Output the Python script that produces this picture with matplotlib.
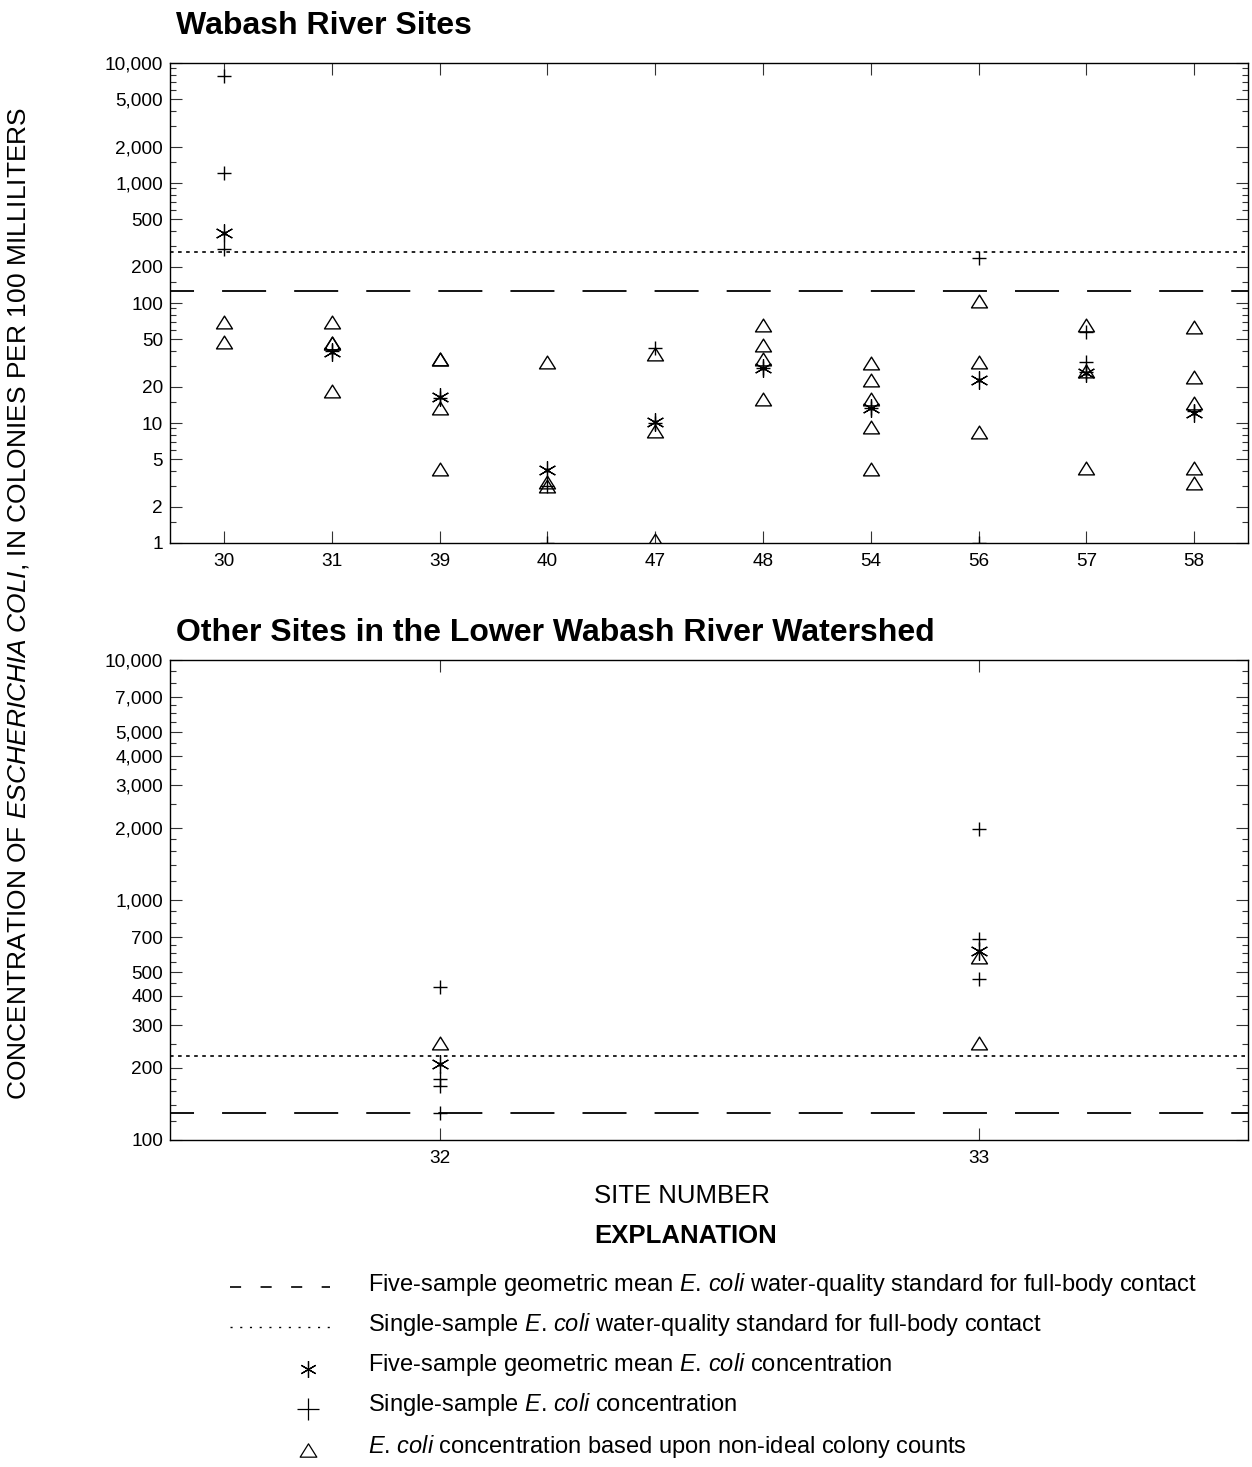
import matplotlib
matplotlib.use("Agg")
import matplotlib.pyplot as plt
from matplotlib.path import Path
from matplotlib.ticker import FixedLocator, NullLocator, NullFormatter

plt.rcParams['font.family'] = ['Liberation Sans', 'DejaVu Sans']
plt.rcParams['mathtext.fontset'] = 'custom'
plt.rcParams['mathtext.rm'] = 'Liberation Sans'
plt.rcParams['mathtext.it'] = 'Liberation Sans:italic'
plt.rcParams['mathtext.bf'] = 'Liberation Sans:bold'
plt.rcParams['lines.scale_dashes'] = False

# ---- data ----
top_sites = ["30", "31", "39", "40", "47", "48", "54", "56", "57", "58"]
top_single = [[7800, 1200, 280], [40], [16.2], [3.0, 1.0], [42, 10], [29],
              [13.3], [235, 1.0], [57, 32, 26.5], [12.6]]
top_geomean = [380, 39, 16.4, 4.07, 10.1, 29, 13.3, 23, 26.3, 12]
top_nonideal = [[70, 47], [70, 46, 46, 18.5], [34, 34, 13.3, 4.15], [32, 3.2, 3.0],
                [37.5, 8.5, 1.06], [66, 44.6, 34, 15.8], [31.4, 22.8, 15.8, 9.3, 4.15],
                [103, 32.4, 8.4], [65, 27, 4.2], [63, 24, 14.6, 4.2, 3.15]]
top_geo_std = 125
top_single_std = 265

bot_sites = ["32", "33"]
bot_single = [[435, 179, 168, 129], [1980, 686, 467]]
bot_geomean = [207, 615]
bot_nonideal = [[253], [581, 253]]
bot_geo_std = 130
bot_single_std = 223

top_major = [1, 2, 5, 10, 20, 50, 100, 200, 500, 1000, 2000, 5000, 10000]
top_minor_mult = [1.5, 3, 4, 6, 7, 8, 9]
bot_major = [100, 200, 300, 400, 500, 700, 1000, 2000, 3000, 4000, 5000, 7000, 10000]
bot_minor_mult = [1.2, 1.4, 1.6, 1.8, 2.5, 3.5, 4.5, 5.5, 6, 6.5, 8, 9]

# open triangle, a bit wider than tall
tri = Path([(-1, -0.8), (1, -0.8), (0, 0.8), (-1, -0.8)],
           [Path.MOVETO, Path.LINETO, Path.LINETO, Path.CLOSEPOLY])

W, H = 1252, 1467
fig = plt.figure(figsize=(W / 100, H / 100), dpi=100)

dash_style = (14.4, (31.7, 20.2))
dot_style = (0, (2.6, 3.2))


def panel(rect, sites, single, geomean, nonideal, geo_std, single_std,
          ylim, major, minor_mult, decades):
    ax = fig.add_axes(rect)
    ax.set_yscale('log')
    ax.set_ylim(*ylim)
    ax.set_xlim(-0.5, len(sites) - 0.5)
    ax.axhline(geo_std, color='k', lw=1.3, ls=dash_style)
    ax.axhline(single_std, color='k', lw=1.2, ls=dot_style)
    for i in range(len(sites)):
        if nonideal[i]:
            ax.plot([i] * len(nonideal[i]), nonideal[i], ls='none', marker=tri,
                    ms=11.5, mfc='none', mec='k', mew=1.0)
        if single[i]:
            ax.plot([i] * len(single[i]), single[i], ls='none', marker='+',
                    ms=10, mec='k', mew=1.0)
        ax.plot([i], [geomean[i]], ls='none', marker=(6, 2, 0), ms=13,
                mec='k', mew=0.9)
        ax.plot([i], [geomean[i]], ls='none', marker='o', ms=2.2, mfc='k', mec='k')
    ax.set_xticks(range(len(sites)))
    ax.set_xticklabels(sites)
    ax.xaxis.set_minor_locator(NullLocator())
    ax.yaxis.set_major_locator(FixedLocator(major))
    ax.set_yticklabels([f"{v:,}" for v in major])
    minors = [m * 10 ** d for d in decades for m in minor_mult]
    ax.yaxis.set_minor_locator(FixedLocator(minors))
    ax.yaxis.set_minor_formatter(NullFormatter())
    ax.tick_params(which='both', direction='in', top=True, right=True,
                   labelsize=13.7, width=0.8, color='#333333')
    ax.tick_params(which='major', length=8.5)
    ax.tick_params(axis='x', which='major', pad=7)
    ax.tick_params(axis='y', which='major', pad=5)
    ax.tick_params(which='minor', length=4.5)
    for s in ax.spines.values():
        s.set_linewidth(1.0)
    return ax


left, width = 170 / W, 1078 / W
panel([left, 1 - 543 / H, width, 480 / H], top_sites, top_single, top_geomean,
      top_nonideal, top_geo_std, top_single_std, (1, 10000), top_major,
      top_minor_mult, [0, 1, 2, 3])
panel([left, 1 - 1140 / H, width, 480 / H], bot_sites, bot_single, bot_geomean,
      bot_nonideal, bot_geo_std, bot_single_std, (100, 10000), bot_major,
      bot_minor_mult, [2, 3])

# overlay in pixel coordinates for titles, labels and explanation
ov = fig.add_axes([0, 0, 1, 1])
ov.set_xlim(0, W)
ov.set_ylim(H, 0)
ov.axis('off')

ov.text(176, 34, "Wabash River Sites", fontsize=23, fontweight='bold', va='baseline')
ov.text(176, 641, "Other Sites in the Lower Wabash River Watershed", fontsize=23,
        fontweight='bold', va='baseline')
ov.text(19, 603, r"CONCENTRATION OF $\mathit{ESCHERICHIA\;COLI}$, IN COLONIES PER 100 MILLILITERS",
        fontsize=19, rotation=90, ha='center', va='center')
ov.text(682, 1196, "SITE NUMBER", fontsize=18.5, ha='center', va='center')
ov.text(686, 1236, "EXPLANATION", fontsize=18.5, fontweight='bold', ha='center', va='center')

# the dot is set outside mathtext, which would pad it like punctuation
ec = r"$\mathit{E}$. $\mathit{coli}$"
labels = [
    "Five-sample geometric mean " + ec + " water-quality standard for full-body contact",
    "Single-sample " + ec + " water-quality standard for full-body contact",
    "Five-sample geometric mean " + ec + " concentration",
    "Single-sample " + ec + " concentration",
    ec + " concentration based upon non-ideal colony counts",
]
rows = [1285, 1325, 1365, 1405, 1446]
ov.plot([230, 330], [rows[0] + 2] * 2, color='k', lw=1.2, ls=(0, (8, 14)))
ov.plot([230, 330], [rows[1] + 2] * 2, color='k', lw=1.0, ls=(0, (1.5, 5.5)))
ov.plot([308], [rows[2] + 4], ls='none', marker=(6, 2, 0), ms=12, mec='k', mew=0.9)
ov.plot([308], [rows[3] + 4], ls='none', marker='+', ms=16, mec='k', mew=0.9)
ov.plot([308], [rows[4] + 4], ls='none', marker=tri, ms=12, mfc='none', mec='k', mew=0.9)
for y, lab in zip(rows, labels):
    ov.text(368, y, lab, fontsize=17, va='center')

fig.savefig("out.png", dpi=100)
